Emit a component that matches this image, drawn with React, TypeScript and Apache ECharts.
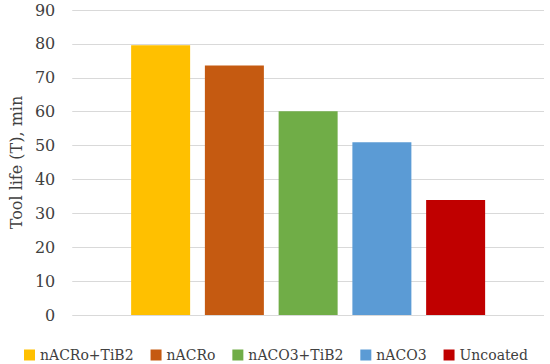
import React, { useEffect, useRef } from "react";
import * as echarts from "echarts";

const categories = [""];
const seriesNames = ["nACRo+TiB2", "nACRo", "nACO3+TiB2", "nACO3", "Uncoated"];
const seriesValues = [79.6, 73.6, 60.1, 51.0, 33.9];
const seriesColors = ["#FFC000", "#C55A11", "#70AD47", "#5B9BD5", "#C00000"];
const yTicks = { min: 0, max: 90, interval: 10 };
const yTitle = "Tool life (T), min";

const FONT = "DejaVu Serif";

export default function App() {
  const ref = useRef<HTMLDivElement>(null);
  useEffect(() => {
    if (!ref.current) return;
    const chart = echarts.init(ref.current, undefined, { renderer: "svg" });
    chart.setOption({
      animation: false,
      backgroundColor: "#ffffff",
      grid: { left: 64, right: 6, top: 10, bottom: 49, containLabel: false },
      legend: {
        top: 343,
        left: 19,
        itemWidth: 11,
        itemHeight: 11,
        itemGap: 17,
        icon: "rect",
        textStyle: { fontFamily: FONT, fontSize: 14, color: "#404040" },
        data: seriesNames,
      },
      xAxis: {
        type: "category",
        data: categories,
        axisLine: { show: false },
        axisTick: { show: false },
        axisLabel: { show: false },
      },
      yAxis: {
        type: "value",
        min: yTicks.min,
        max: yTicks.max,
        interval: yTicks.interval,
        name: yTitle,
        nameLocation: "middle",
        nameGap: 42,
        nameTextStyle: { fontFamily: FONT, fontSize: 16, color: "#404040" },
        axisLine: { show: false },
        axisTick: { show: false },
        axisLabel: { fontFamily: FONT, fontSize: 16, color: "#404040", margin: 17 },
        splitLine: { lineStyle: { color: "#d9d9d9", width: 1 } },
      },
      series: seriesNames.map((name, i) => ({
        name,
        type: "bar",
        data: [seriesValues[i]],
        barWidth: 59,
        barGap: "25%",
        itemStyle: { color: seriesColors[i] },
      })),
    });
    return () => chart.dispose();
  }, []);
  return (
    <div
      ref={ref}
      style={{ position: "fixed", left: 0, top: 0, width: 550, height: 364 }}
    />
  );
}
